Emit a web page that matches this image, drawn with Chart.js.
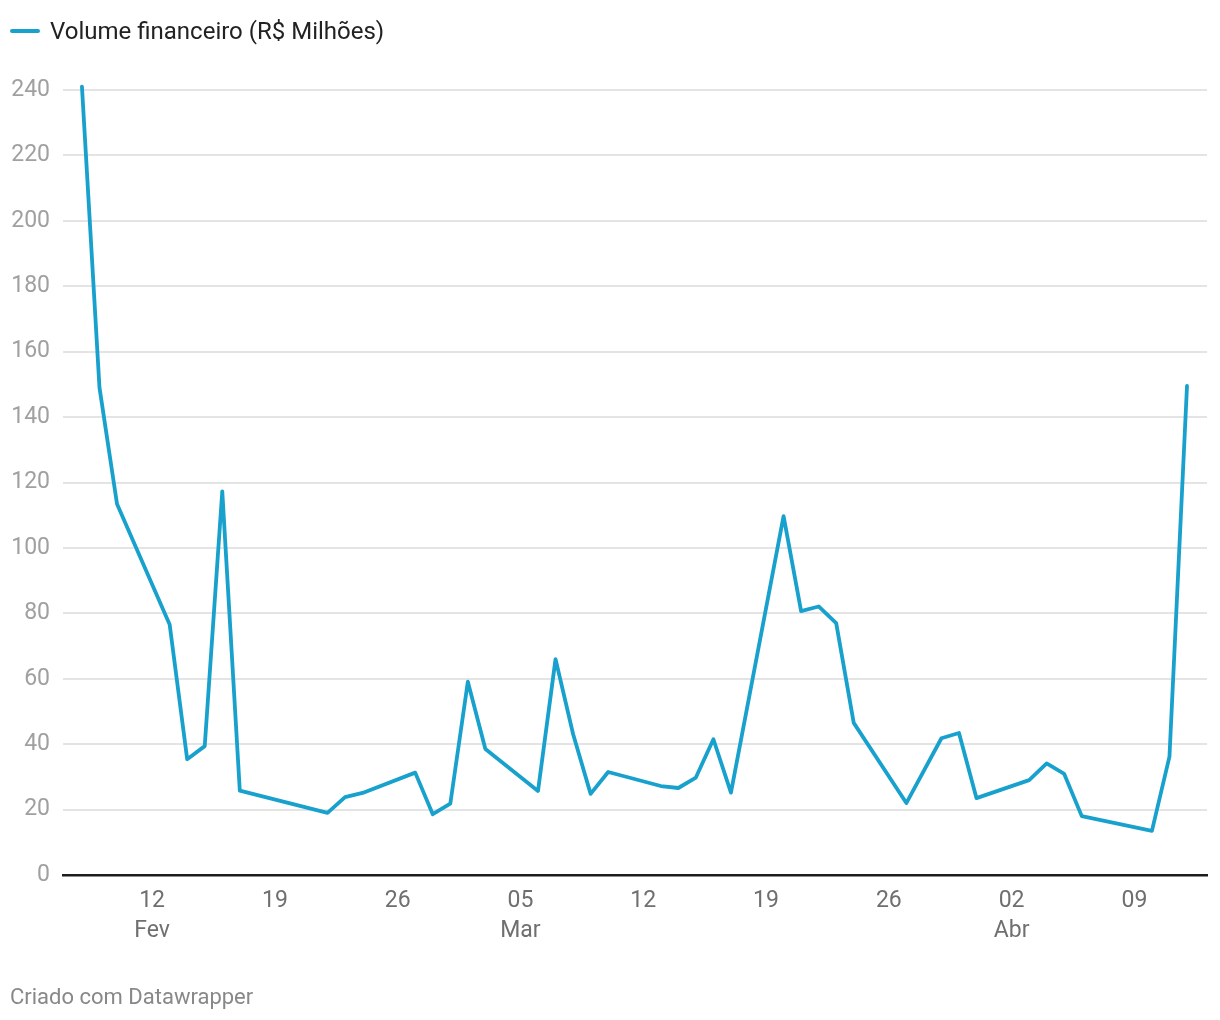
<!DOCTYPE html>
<html lang="pt-BR">
<head>
<meta charset="utf-8">
<title>Volume financeiro</title>
<script src="https://cdn.jsdelivr.net/npm/chart.js@4.4.0/dist/chart.umd.min.js"></script>
<style>
    html, body { margin: 0; padding: 0; background: #fff; }
    body { width: 1220px; height: 1020px; position: relative; font-family: Roboto, sans-serif; }
    #wrap { position: absolute; left: 0; top: 0; width: 1220px; height: 1020px; }
    .legend { position: absolute; left: 10px; top: 17px; font-size: 24px; color: #222; display: flex; align-items: center; }
    .legend .swatch { display: inline-block; width: 30px; height: 4px; border-radius: 2px; background: #18a1cd; margin-right: 10px; }
    .footer { position: absolute; left: 10px; top: 984px; font-size: 22px; color: #888; }
</style>
</head>
<body>
<div id="wrap"><canvas id="volumeChart" width="1220" height="1020"></canvas></div>
<div class="legend"><span class="swatch"></span><span>Volume financeiro (R$ Milhões)</span></div>
<div class="footer">Criado com Datawrapper</div>

<script>
// Data (trading days, 2023)
const dates = [
    '2023-02-08', '2023-02-09', '2023-02-10', '2023-02-13', '2023-02-14', '2023-02-15', '2023-02-16', '2023-02-17',
    '2023-02-22', '2023-02-23', '2023-02-24', '2023-02-27', '2023-02-28',
    '2023-03-01', '2023-03-02', '2023-03-03', '2023-03-06', '2023-03-07', '2023-03-08', '2023-03-09', '2023-03-10',
    '2023-03-13', '2023-03-14', '2023-03-15', '2023-03-16', '2023-03-17',
    '2023-03-20', '2023-03-21', '2023-03-22', '2023-03-23', '2023-03-24',
    '2023-03-27', '2023-03-29', '2023-03-30', '2023-03-31',
    '2023-04-03', '2023-04-04', '2023-04-05', '2023-04-06',
    '2023-04-10', '2023-04-11', '2023-04-12'
];
const volume = [
    241, 149, 113.4, 76.6, 35.4, 39.4, 117.3, 25.8,
    19.0, 23.8, 25.1, 31.3, 18.6,
    21.8, 59.1, 38.5, 25.7, 66.0, 43.1, 24.8, 31.5,
    27.2, 26.6, 29.8, 41.5, 25.2,
    109.7, 80.7, 82.1, 77.0, 46.5,
    22.0, 41.8, 43.4, 23.5,
    29.0, 34.1, 30.9, 18.0,
    13.5, 36.2, 149.5
];
const tickDates = ['2023-02-12', '2023-02-19', '2023-02-26', '2023-03-05', '2023-03-12', '2023-03-19', '2023-03-26', '2023-04-02', '2023-04-09'];
const monthNames = ['Jan', 'Fev', 'Mar', 'Abr', 'Mai', 'Jun', 'Jul', 'Ago', 'Set', 'Out', 'Nov', 'Dez'];
const yTicks = [0, 20, 40, 60, 80, 100, 120, 140, 160, 180, 200, 220, 240];

// Convert a date string to days since 1 Feb 2023
const base = Date.UTC(2023, 1, 1);
function dayNum(s) {
    const [y, m, d] = s.split('-').map(Number);
    return (Date.UTC(y, m - 1, d) - base) / 86400000;
}
function dayLabel(n) {
    const dt = new Date(base + n * 86400000);
    const dd = String(dt.getUTCDate()).padStart(2, '0');
    return [dd, dt.getUTCDate() <= 7 || n === tickNums[0] ? monthNames[dt.getUTCMonth()] : ''];
}

const points = dates.map((d, i) => ({ x: dayNum(d), y: volume[i] }));
const tickNums = tickDates.map(dayNum);

const ctx = document.getElementById('volumeChart').getContext('2d');
new Chart(ctx, {
    type: 'line',
    data: {
        datasets: [{
            label: 'Volume financeiro (R$ Milhões)',
            data: points,
            borderColor: '#18a1cd',
            borderWidth: 3.8,
            pointRadius: 0,
            tension: 0,
            borderJoinStyle: 'round',
            borderCapStyle: 'round',
            clip: false
        }]
    },
    options: {
        responsive: false,
        animation: false,
        layout: { padding: { left: 0, right: 13, top: 90, bottom: 65 } },
        plugins: { legend: { display: false }, tooltip: { enabled: false } },
        scales: {
            x: {
                type: 'linear',
                min: 5.92,
                max: 71.14,
                afterBuildTicks: (scale) => { scale.ticks = tickNums.map(v => ({ value: v })); },
                afterFit: (scale) => { scale.height = 80; },
                grid: { display: false, drawTicks: false },
                border: { display: true, color: '#1d1d1d', width: 2.5 },
                ticks: {
                    autoSkip: false,
                    maxRotation: 0,
                    padding: 11,
                    color: '#6f6f6f',
                    font: { family: 'Roboto', size: 23, lineHeight: 1.3 },
                    callback: (v) => dayLabel(v)
                }
            },
            y: {
                min: 0,
                max: 240,
                afterBuildTicks: (scale) => { scale.ticks = yTicks.map(v => ({ value: v })); },
                afterFit: (scale) => { scale.width = 63; },
                grid: { color: '#e4e4e4', lineWidth: 2, drawTicks: false },
                border: { display: false },
                ticks: {
                    padding: 13,
                    color: '#a0a0a0',
                    font: { family: 'Roboto', size: 23 }
                }
            }
        }
    }
});
</script>
</body>
</html>
